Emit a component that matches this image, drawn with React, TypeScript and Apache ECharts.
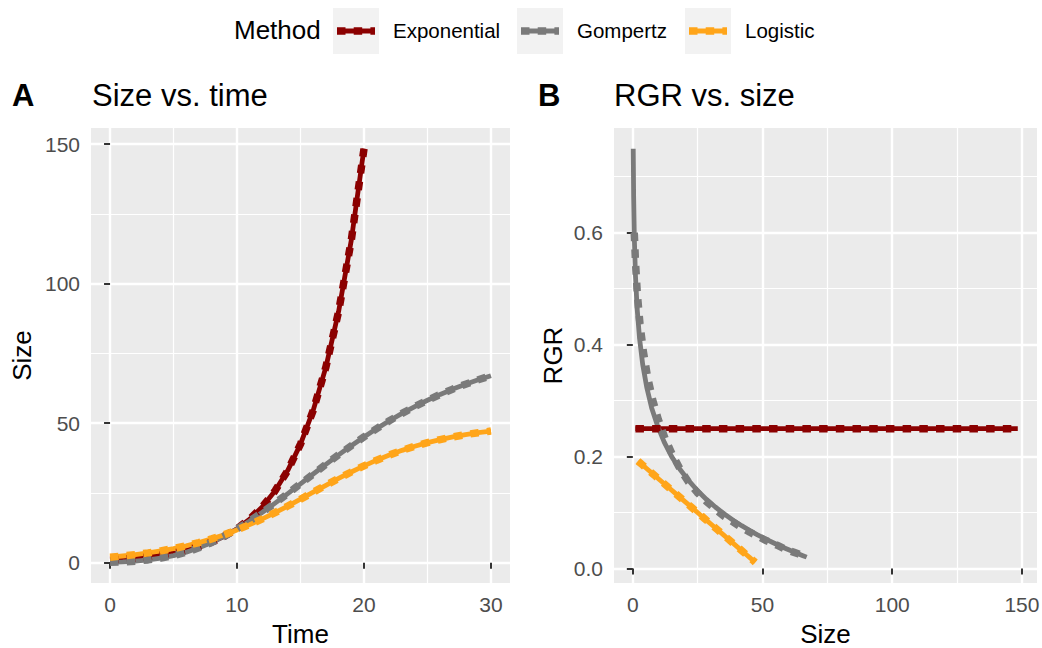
import React, { useEffect, useRef } from "react";
import * as echarts from "echarts";

// ---- data ----
const METHODS = ["Exponential", "Gompertz", "Logistic"];
const COLORS = ["#8B0000", "#7A7A7A", "#FFA51A"];

const TIME = [0, 1, 2, 3, 4, 5, 6, 7, 8, 9, 10, 11, 12, 13, 14, 15, 16, 17, 18, 19, 20, 21, 22, 23, 24, 25, 26, 27, 28, 29, 30];
const EXP_TIME = [0, 1, 2, 3, 4, 5, 6, 7, 8, 9, 10, 11, 12, 13, 14, 15, 16, 17, 18, 19, 20];

const EXP_SIZE = [1.0, 1.28, 1.65, 2.12, 2.72, 3.49, 4.48, 5.75, 7.39, 9.49, 12.18, 15.64, 20.09, 25.79, 33.12, 42.52, 54.6, 70.11, 90.02, 115.58, 148.41];
const GOMP_SIZE = [0.153, 0.311, 0.582, 1.016, 1.663, 2.574, 3.795, 5.353, 7.263, 9.519, 12.1, 14.97, 18.08, 21.38, 24.8, 28.29, 31.8, 35.27, 38.67, 41.95, 45.1, 48.08, 50.89, 53.53, 55.98, 58.24, 60.33, 62.24, 63.98, 65.58, 67.02];
const LOGI_SIZE = [2.0, 2.421, 2.926, 3.528, 4.243, 5.087, 6.076, 7.227, 8.553, 10.066, 11.77, 13.664, 15.737, 17.969, 20.33, 22.779, 25.275, 27.764, 30.199, 32.533, 34.73, 36.765, 38.618, 40.284, 41.753, 43.038, 44.151, 45.107, 45.922, 46.611, 47.191];

const EXP_RGR = [0.25, 0.25, 0.25, 0.25, 0.25, 0.25, 0.25, 0.25, 0.25, 0.25, 0.25, 0.25, 0.25, 0.25, 0.25, 0.25, 0.25, 0.25, 0.25, 0.25, 0.25];
const GOMP_RGR = [0.75, 0.665, 0.59, 0.523, 0.464, 0.412, 0.365, 0.324, 0.287, 0.255, 0.226, 0.2, 0.178, 0.158, 0.14, 0.124, 0.11, 0.0975, 0.0865, 0.0767, 0.068, 0.0603, 0.0535, 0.0475, 0.0421, 0.0373, 0.0331, 0.0294, 0.0261, 0.0231, 0.0205];
const GOMP_FIT_SIZE = [0.55, 1.05, 1.75, 2.75, 4.05, 5.65, 7.6, 9.85, 12.4, 15.2, 18.2, 21.4, 24.8, 28.3, 31.8, 35.3, 38.7, 42.0, 45.1, 48.1, 50.9, 53.5, 56.0, 58.2, 60.3, 62.2, 64.0, 65.6, 67.0];
const GOMP_FIT_RGR = [0.6, 0.545, 0.49, 0.437, 0.388, 0.343, 0.302, 0.266, 0.233, 0.204, 0.178, 0.155, 0.136, 0.12, 0.106, 0.093, 0.083, 0.073, 0.065, 0.058, 0.051, 0.046, 0.041, 0.036, 0.032, 0.029, 0.026, 0.023, 0.021];
const LOGI_RGR = [0.192, 0.1903, 0.1883, 0.1859, 0.183, 0.1797, 0.1757, 0.1711, 0.1658, 0.1597, 0.1529, 0.1453, 0.1371, 0.1281, 0.1187, 0.1089, 0.0989, 0.0889, 0.0792, 0.0699, 0.0611, 0.0529, 0.0455, 0.0389, 0.033, 0.0278, 0.0234, 0.0196, 0.0163, 0.0136, 0.0112];

const X_TICKS_A = [0, 10, 20, 30];
const Y_TICKS_A = [0, 50, 100, 150];
const X_TICKS_B = [0, 50, 100, 150];
const Y_TICKS_B = [0, 0.2, 0.4, 0.6];

// ---- styling ----
const FONT = "'Liberation Sans', Arial, Helvetica, sans-serif";
const SOLID_W = 4.8;
const DASH_W = 7.5;
const DASH = [8.5, 8.2];

function valueAxis(opts: any) {
  const { ticks, step, min, max, gridIndex, name, nameGap, fmt } = opts;
  return {
    type: "value",
    gridIndex,
    min,
    max,
    minInterval: step,
    maxInterval: step,
    name,
    nameLocation: "middle",
    nameGap,
    nameTextStyle: { color: "#000000", fontSize: 26, fontFamily: FONT },
    axisLine: { show: false },
    axisTick: { show: true, length: 6, customValues: ticks, lineStyle: { color: "#333333", width: 2 } },
    axisLabel: {
      customValues: ticks,
      margin: 11,
      color: "#4D4D4D",
      fontSize: 21,
      fontFamily: FONT,
      formatter: fmt,
    },
    splitLine: { show: true, lineStyle: { color: "#FFFFFF", width: 2.4 } },
    minorTick: { show: false, splitNumber: 2 },
    minorSplitLine: { show: true, lineStyle: { color: "#FFFFFF", width: 1.2 } },
  };
}

function lineSeries(name: string, data: number[][], color: string, idx: number, dashed: boolean) {
  return {
    type: "line",
    name,
    data,
    xAxisIndex: idx,
    yAxisIndex: idx,
    symbol: "none",
    showSymbol: false,
    silent: true,
    lineStyle: {
      color,
      width: dashed ? DASH_W : SOLID_W,
      type: dashed ? DASH : "solid",
      cap: "butt",
      join: "round",
    },
  };
}

export default function App() {
  const ref = useRef<HTMLDivElement>(null);

  useEffect(() => {
    document.body.style.margin = "0";
    document.body.style.overflow = "hidden";
    const chart = echarts.init(ref.current!, undefined, { renderer: "svg" });

    const expA = EXP_TIME.map((t, i) => [t, EXP_SIZE[i]]);
    const gompA = TIME.map((t, i) => [t, GOMP_SIZE[i]]);
    const logiA = TIME.map((t, i) => [t, LOGI_SIZE[i]]);
    const expB = EXP_SIZE.map((s, i) => [s, EXP_RGR[i]]);
    const gompB = GOMP_SIZE.map((s, i) => [s, GOMP_RGR[i]]);
    const gompBFit = GOMP_FIT_SIZE.map((s, i) => [s, GOMP_FIT_RGR[i]]);
    const logiB = LOGI_SIZE.map((s, i) => [s, LOGI_RGR[i]]);

    const keyX = [333, 517, 685];
    const textX = [393, 577, 745];
    const legendGraphics: any[] = [
      {
        type: "text",
        left: 234,
        top: 17,
        style: { text: "Method", fontSize: 26, fontFamily: FONT, fill: "#000000" },
      },
    ];
    METHODS.forEach((m, i) => {
      legendGraphics.push({
        type: "rect",
        shape: { x: keyX[i], y: 8, width: 46, height: 46 },
        style: { fill: "#F2F2F2" },
      });
      legendGraphics.push({
        type: "line",
        shape: { x1: keyX[i] + 4, y1: 31, x2: keyX[i] + 42, y2: 31 },
        style: { stroke: COLORS[i], lineWidth: SOLID_W },
      });
      legendGraphics.push({
        type: "line",
        shape: { x1: keyX[i] + 4, y1: 31, x2: keyX[i] + 42, y2: 31 },
        style: { stroke: COLORS[i], lineWidth: DASH_W, lineDash: DASH },
      });
      legendGraphics.push({
        type: "text",
        left: textX[i],
        top: 20,
        style: { text: m, fontSize: 20.5, fontFamily: FONT, fill: "#000000" },
      });
    });

    const titleStyle = (bold: boolean) => ({ fontSize: 31, fontWeight: bold ? "bold" : "normal", fontFamily: FONT, color: "#000" });

    chart.setOption({
      animation: false,
      backgroundColor: "#FFFFFF",
      title: [
        { text: "A", left: 12, top: 80, padding: 0, textStyle: titleStyle(true) },
        { text: "Size vs. time", left: 92, top: 80, padding: 0, textStyle: titleStyle(false) },
        { text: "B", left: 538, top: 80, padding: 0, textStyle: titleStyle(true) },
        { text: "RGR vs. size", left: 614, top: 80, padding: 0, textStyle: titleStyle(false) },
      ],
      grid: [
        { left: 91, top: 128, width: 419, height: 455, show: true, backgroundColor: "#EBEBEB", borderWidth: 0, containLabel: false, outerBoundsMode: "none" },
        { left: 614, top: 128, width: 423, height: 455, show: true, backgroundColor: "#EBEBEB", borderWidth: 0, containLabel: false, outerBoundsMode: "none" },
      ],
      xAxis: [
        valueAxis({ ticks: X_TICKS_A, step: 10, min: -1.5, max: 31.5, gridIndex: 0, name: "Time", nameGap: 38, fmt: (v: number) => String(v) }),
        valueAxis({ ticks: X_TICKS_B, step: 50, min: -7.26, max: 155.82, gridIndex: 1, name: "Size", nameGap: 38, fmt: (v: number) => String(v) }),
      ],
      yAxis: [
        valueAxis({ ticks: Y_TICKS_A, step: 50, min: -7.26, max: 155.82, gridIndex: 0, name: "Size", nameGap: 56, fmt: (v: number) => String(v) }),
        valueAxis({ ticks: Y_TICKS_B, step: 0.2, min: -0.0257, max: 0.7869, gridIndex: 1, name: "RGR", nameGap: 48, fmt: (v: number) => v.toFixed(1) }),
      ],
      graphic: legendGraphics,
      series: [
        lineSeries("Exponential", expA, COLORS[0], 0, false),
        lineSeries("Gompertz", gompA, COLORS[1], 0, false),
        lineSeries("Logistic", logiA, COLORS[2], 0, false),
        lineSeries("Exponential", expA, COLORS[0], 0, true),
        lineSeries("Gompertz", gompA, COLORS[1], 0, true),
        lineSeries("Logistic", logiA, COLORS[2], 0, true),
        lineSeries("Exponential", expB, COLORS[0], 1, false),
        lineSeries("Gompertz", gompB, COLORS[1], 1, false),
        lineSeries("Logistic", logiB, COLORS[2], 1, false),
        lineSeries("Exponential", expB, COLORS[0], 1, true),
        lineSeries("Gompertz", gompBFit, COLORS[1], 1, true),
        lineSeries("Logistic", logiB, COLORS[2], 1, true),
      ],
    });

    return () => chart.dispose();
  }, []);

  return <div ref={ref} style={{ width: 1042, height: 648 }} />;
}
